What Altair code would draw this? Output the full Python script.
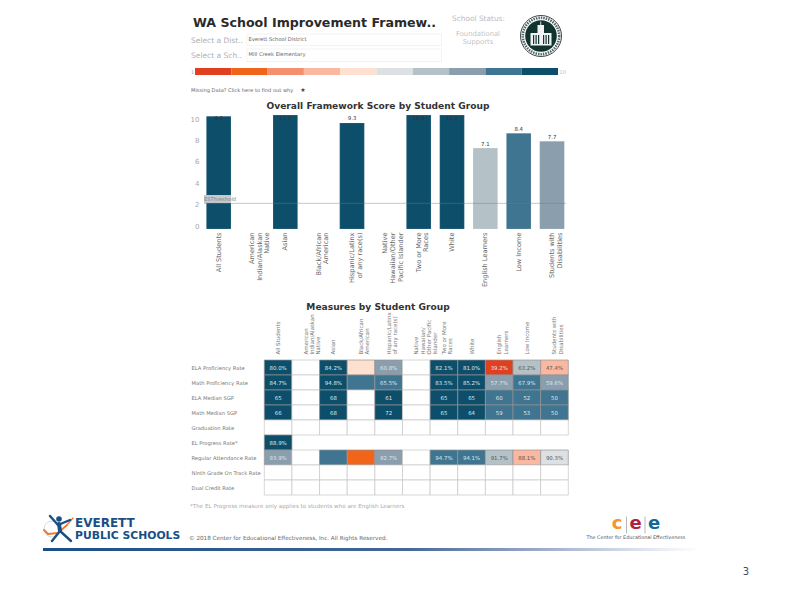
import altair as alt
import pandas as pd

GROUPS_BAR = ["All Students", "American\nIndian/Alaskan\nNative", "Asian", "Black/African\nAmerican",
              "Hispanic/Latinx\nof any race(s)", "Native\nHawaiian/Other\nPacific Islander", "Two or More\nRaces",
              "White", "English Learners", "Low Income", "Students with\nDisabilities"]
SCORES = [9.9, None, 10.0, None, 9.3, None, 10.0, 10.0, 7.1, 8.4, 7.7]
SCORE_LEVELS = [10, None, 10, None, 10, None, 10, 10, 7, 9, 8]
Y_TICKS = [0, 2, 4, 6, 8, 10]
THRESHOLD = [2.25]
SCALE_LEVELS = list(range(1, 11))
PALETTE = ["#e0401f", "#f0651a", "#f4906e", "#fbb8a0", "#fde0cf", "#dde1e4", "#b4c2c7", "#8a9eae", "#3f7590", "#0d4f6b"]

GROUPS_HEAT = ["All Students", "American\nIndian/Alaskan\nNative", "Asian", "Black/African\nAmerican",
               "Hispanic/Latinx\nof any race(s)", "Native\nHawaiian/\nOther Pacific\nIslander", "Two or More\nRaces",
               "White", "English\nLearners", "Low Income", "Students with\nDisabilities"]
MEASURES = ["ELA Proficiency Rate", "Math Proficiency Rate", "ELA Median SGP", "Math Median SGP", "Graduation Rate",
            "EL Progress Rate*", "Regular Attendance Rate", "Ninth Grade On Track Rate", "Dual Credit Rate"]
# 0 = empty cell with a border, None = no cell at all
CELL_LEVELS = [
    [10, 0, 10, 5, 8, 0, 10, 10, 1, 7, 4],
    [10, 0, 10, 9, 9, 0, 10, 10, 8, 9, 8],
    [10, 0, 10, 0, 10, 0, 10, 10, 9, 9, 9],
    [10, 0, 10, 0, 10, 0, 10, 10, 9, 9, 9],
    [0, 0, 0, 0, 0, 0, 0, 0, 0, 0, 0],
    [10, None, None, None, None, None, None, None, None, None, None],
    [8, 0, 9, 2, 8, 0, 9, 9, 7, 4, 6],
    [0, 0, 0, 0, 0, 0, 0, 0, 0, 0, 0],
    [0, 0, 0, 0, 0, 0, 0, 0, 0, 0, 0],
]
CELL_TEXT = [
    ["80.0%", "", "84.2%", "", "60.8%", "", "82.1%", "81.0%", "39.2%", "63.2%", "47.4%"],
    ["84.7%", "", "94.8%", "", "65.5%", "", "83.5%", "85.2%", "57.7%", "67.9%", "59.6%"],
    ["65", "", "68", "", "61", "", "65", "65", "60", "52", "50"],
    ["66", "", "68", "", "72", "", "65", "64", "59", "53", "50"],
    [""] * 11,
    ["88.9%"] + [""] * 10,
    ["93.9%", "", "", "", "92.7%", "", "94.7%", "94.1%", "91.7%", "88.1%", "90.3%"],
    [""] * 11,
    [""] * 11,
]

W, H = 784, 576
FONT = "DejaVu Sans"
ONE = pd.DataFrame({"a": [0]})


def px(v):
    return alt.value(v - 8)


def label(text, x, y, size=6, color="#666666", weight="normal", align="left", angle=0, font=FONT):
    return alt.Chart(ONE).mark_text(fontSize=size, color=color, fontWeight=weight, align=align,
                                    baseline="middle", font=font, angle=angle).encode(
        x=px(x), y=px(y), text=alt.value(text))


def box(x, x2, y, y2, fill="#ffffff", stroke=None, sw=0.0, **kw):
    args = dict(fill=fill, strokeWidth=sw, **kw)
    if stroke:
        args["stroke"] = stroke
    return alt.Chart(ONE).mark_rect(**args).encode(x=px(x), x2=px(x2), y=px(y), y2=px(y2))


def seg(x, y, x2, y2, color, sw):
    return alt.Chart(ONE).mark_rule(color=color, strokeWidth=sw, strokeCap="round").encode(
        x=px(x), x2=px(x2), y=px(y), y2=px(y2))


def dot(x, y, r, fill=None, stroke=None, sw=0.0, dash=None):
    args = dict(shape="circle", size=(2 * r) ** 2, strokeWidth=sw, opacity=1)
    args["fill"] = fill if fill else "transparent"
    if stroke:
        args["stroke"] = stroke
    if dash:
        args["strokeDash"] = dash
    return alt.Chart(ONE).mark_point(**args).encode(x=px(x), y=px(y))


layers = []

# ---------- header ----------
layers += [
    label("WA School Improvement Framew..", 193, 22.5, 12.6, "#2a2a2a", "bold"),
    label("School Status:", 452, 19, 7.4, "#bbbbbb"),
    label("Foundational", 478, 33.5, 6.8, "#c4c4c4", align="center"),
    label("Supports", 478, 42, 6.8, "#c4c4c4", align="center"),
    label("Select a Dist..", 191, 40.5, 7.5, "#b0b0b0"),
    label("Select a Sch..", 191, 56, 7.5, "#b0b0b0"),
    box(247, 441.5, 34, 45.5, "#ffffff", "#eeeeee", 0.7),
    box(247, 441.5, 49, 61.5, "#ffffff", "#eeeeee", 0.7),
    label("Everett School District", 248.5, 38.5, 5.2, "#666666"),
    label("Mill Creek Elementary", 248.5, 54, 5.2, "#666666"),
    label("1", 191, 71.5, 5, "#aaaaaa"),
    label("10", 559.5, 71.5, 5, "#bbbbbb"),
    label("Missing Data? Click here to find out why", 191, 90, 5.1, "#666666"),
    label("★", 303, 90, 6, "#34495e", align="center"),
    label("Overall Framework Score by Student Group", 378, 105.5, 9.1, "#333333", "bold", "center"),
    label("Measures by Student Group", 378, 306.5, 9.1, "#333333", "bold", "center"),
]

# ---------- seal ----------
DARK = "#12342f"
layers += [
    dot(541, 36, 20.5, stroke="#3a4a48", sw=1.0),
    dot(541, 36, 18.2, stroke="#556664", sw=2.6, dash=[1.5, 1]),
    dot(541, 36, 15.8, fill=DARK),
    box(530.5, 551.5, 33, 45.5, "#f2f2f2"),
    box(537.5, 544, 25, 33, "#f2f2f2"),
    box(540.3, 541.2, 21.5, 25, "#f2f2f2"),
]
layers += [box(a, a + 1.2, 35, 44, DARK) for a in (533, 535.5, 538, 543, 545.5, 548)]

# ---------- colour strip ----------
strip = pd.DataFrame({"level": SCALE_LEVELS})
layers.append(alt.Chart(strip).mark_rect().encode(
    x=alt.X("level:O", axis=None, scale=alt.Scale(domain=SCALE_LEVELS, range=[187, 550], paddingInner=0, paddingOuter=0)),
    y=px(68), y2=px(75),
    color=alt.Color("level:O", legend=None, scale=alt.Scale(domain=SCALE_LEVELS, range=PALETTE)),
))

# ---------- bar chart ----------
bars = pd.DataFrame({"group": GROUPS_BAR, "score": SCORES, "level": SCORE_LEVELS}).dropna()
bars["level"] = bars["level"].astype(int)
bar_x = alt.Scale(domain=GROUPS_BAR, range=[194, 560.7], paddingInner=0.26, paddingOuter=0.13)
bar_y = alt.Scale(domain=[0, 10], range=[221, 107])
split = "split(datum.label, '\\n')"

layers.append(alt.Chart(bars).mark_bar(stroke="#ffffff", strokeOpacity=0.3, strokeWidth=0.5).encode(
    x=alt.X("group:N", scale=bar_x, sort=GROUPS_BAR, title=None,
            axis=alt.Axis(orient="bottom", offset=222 - H, labelAngle=270, labelAlign="right", labelBaseline="middle",
                          labelExpr=split, labelFontSize=6.6, labelColor="#666666", labelFont=FONT, ticks=False,
                          domain=False, grid=False, labelPadding=2, labelLimit=90, labelOverlap=False,
                          labelLineHeight=7.6)),
    y=alt.Y("score:Q", scale=bar_y, axis=None),
    color=alt.Color("level:O", legend=None, scale=alt.Scale(domain=SCALE_LEVELS, range=PALETTE)),
))
# the printed axis numbers sit a little inside the bar scale in the original
layers.append(alt.Chart(pd.DataFrame({"t": Y_TICKS})).mark_point(opacity=0).encode(
    x=alt.value(0),
    y=alt.Y("t:Q", title=None, scale=alt.Scale(domain=[0, 10], range=[218, 111]),
            axis=alt.Axis(orient="left", offset=-192, values=Y_TICKS, ticks=False, domain=False, grid=False,
                          labelFontSize=7, labelColor="#a8a8a8", labelFont=FONT, labelPadding=1)),
))
layers.append(alt.Chart(bars).transform_calculate(pos="min(datum.score, 9.3)", txt="format(datum.score, '.1f')").mark_text(
    fontSize=5.4, color="#333333", font=FONT, dy=-4.5, baseline="middle").encode(
    x=alt.X("group:N", scale=bar_x, sort=GROUPS_BAR, axis=None),
    y=alt.Y("pos:Q", scale=bar_y, axis=None),
    text="txt:N",
))
layers.append(box(204, 231, 195, 203, "#c6cacb"))
layers.append(alt.Chart(pd.DataFrame({"t": THRESHOLD})).mark_rule(color="#6f7a7f", strokeWidth=0.7, opacity=0.6).encode(
    x=px(204), x2=px(566),
    y=alt.Y("t:Q", scale=bar_y, axis=None),
))
layers.append(label("ESThreshold", 204, 199, 5.2, "#868686"))

# ---------- heat table ----------
rows = []
for r, m in enumerate(MEASURES):
    for c, g in enumerate(GROUPS_HEAT):
        if CELL_LEVELS[r][c] is not None:
            rows.append({"m": m, "g": g, "level": CELL_LEVELS[r][c], "txt": CELL_TEXT[r][c]})
cells = pd.DataFrame(rows)
heat_x = alt.Scale(domain=GROUPS_HEAT, range=[256.3, 560.3], paddingInner=0, paddingOuter=0)
heat_y = alt.Scale(domain=MEASURES, range=[352, 487], paddingInner=0, paddingOuter=0)
cell_levels = [0] + SCALE_LEVELS
layers.append(alt.Chart(cells).mark_rect(strokeWidth=0.7).encode(
    x=alt.X("g:N", scale=heat_x, sort=GROUPS_HEAT, title=None,
            axis=alt.Axis(orient="top", offset=-346, labelAngle=270, labelAlign="left", labelBaseline="middle",
                          labelExpr=split, labelFontSize=5.5, labelColor="#777777", labelFont=FONT, ticks=False,
                          domain=False, grid=False, labelPadding=0, labelLimit=60, labelOverlap=False,
                          labelLineHeight=6.3)),
    y=alt.Y("m:N", scale=heat_y, sort=MEASURES, title=None,
            axis=alt.Axis(orient="left", offset=-256, labelAlign="left", labelPadding=73, labelFontSize=5.2,
                          labelColor="#777777", labelFont=FONT, ticks=False, domain=False, grid=False, labelLimit=90)),
    color=alt.Color("level:O", legend=None, scale=alt.Scale(domain=cell_levels, range=["#ffffff"] + PALETTE)),
    stroke=alt.condition("datum.level == 0", alt.value("#c6c6c6"), alt.value("#949494")),
))
layers.append(alt.Chart(cells[cells.txt != ""]).mark_text(fontSize=5.4, font=FONT, baseline="middle").encode(
    x=alt.X("g:N", scale=heat_x, sort=GROUPS_HEAT, axis=None),
    y=alt.Y("m:N", scale=heat_y, sort=MEASURES, axis=None),
    text="txt:N",
    color=alt.condition("datum.level >= 4 && datum.level <= 7", alt.value("#555555"), alt.value("#dfe8ec")),
))
layers.append(label("*The EL Progress measure only applies to students who are English Learners", 190, 505.5, 5.6, "#ababab"))

# ---------- footer ----------
BLUE = "#1a4f86"
ORANGE = "#ee7a2f"
GRADIENT = alt.LinearGradient(gradient="linear", x1=0, x2=1, y1=0, y2=0, stops=[
    alt.GradientStop(offset=0, color=BLUE), alt.GradientStop(offset=0.55, color="#436796"),
    alt.GradientStop(offset=0.75, color="#9aa8c8"), alt.GradientStop(offset=0.88, color="#d2d8e8"),
    alt.GradientStop(offset=1, color="#ffffff")])
layers += [
    dot(52, 529, 8, stroke="#c9d0d8", sw=0.8),
    seg(44, 530, 48, 534, ORANGE, 2),
    seg(48, 534, 58, 533, ORANGE, 2),
    seg(58, 533, 67, 525, ORANGE, 1.8),
    seg(67, 525, 73, 518, ORANGE, 1.3),
    seg(50, 516, 58, 525, BLUE, 2.4),
    seg(58, 525, 70, 520, BLUE, 2.4),
    seg(59, 524, 60, 531, BLUE, 4),
    seg(60, 531, 52, 541, BLUE, 2.4),
    seg(60, 531, 71, 541, BLUE, 2.4),
    dot(59, 519, 2.8, fill=BLUE),
    label("EVERETT", 75, 522.5, 12, BLUE, "bold"),
    label("PUBLIC SCHOOLS", 75, 535.5, 10.8, BLUE, "bold"),
    label("© 2018 Center for Educational Effectiveness, Inc. All Rights Reserved.", 189, 537.5, 5.65, "#666666"),
    alt.Chart(ONE).mark_rect(fill=GRADIENT).encode(x=px(43), x2=px(700), y=px(548), y2=px(551)),
    label("c", 617, 524, 18, "#f5952a", "bold", align="center"),
    seg(626.5, 517, 626.5, 533, "#999999", 0.7),
    label("e", 635.5, 524, 18, "#b0213f", "bold", align="center"),
    seg(645, 517, 645, 533, "#999999", 0.7),
    label("e", 654, 524, 18, "#0f6a97", "bold", align="center"),
    label("The Center for Educational Effectiveness", 586.5, 537.5, 4.85, "#555555"),
    label("3", 746, 571.5, 10, "#3c4a60", align="center"),
]

chart = alt.layer(*layers).resolve_scale(x="independent", y="independent", color="independent").resolve_axis(
    x="independent", y="independent").properties(
    width=W, height=H, padding=0, autosize=alt.AutoSizeParams(type="none")
).configure_view(stroke=None)

chart.save("out.html", embed_options={"renderer": "svg", "actions": False})
